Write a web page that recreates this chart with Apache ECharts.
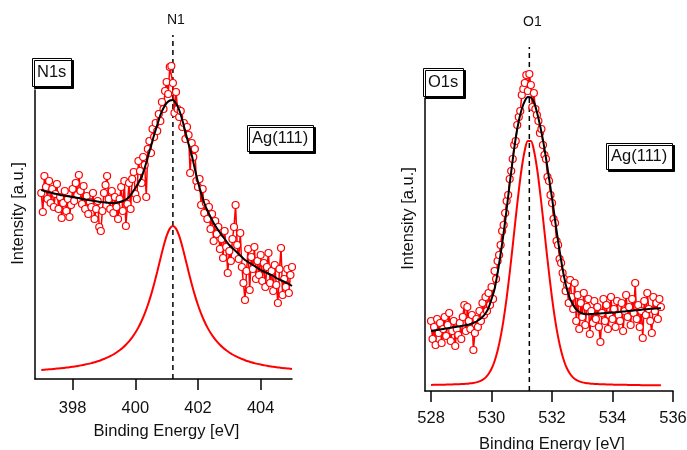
<!DOCTYPE html>
<html>
<head>
<meta charset="utf-8">
<script src="https://cdn.jsdelivr.net/npm/echarts@6/dist/echarts.min.js"></script>
<style>
html,body{margin:0;padding:0;background:#fff;}
#chart{width:687px;height:450px;}
</style>
</head>
<body>
<div id="chart"></div>
<script>
// ---------------- N1s panel ----------------
const n1Ticks = [398, 400, 402, 404];
const n1PeakPos = 401.2;
const n1DataStart = 397.0, n1DataStep = 0.05;
const n1Data = [
186,167,203,192,180,198,176,190,172,185,
195,170,182,161,176,188,168,180,162,174,
190,178,196,184,204,188,175,193,170,183,
165,177,172,186,160,170,178,152,148,168,
186,194,203,180,170,188,166,182,172,160,
180,192,168,198,153,175,196,170,200,207,
185,180,218,208,196,222,214,182,230,238,
226,250,242,256,248,265,258,277,270,288,
297,285,312,313,296,266,287,270,262,268,
252,256,240,252,244,206,236,222,230,198,
192,200,174,190,166,176,160,172,150,165,
138,158,145,152,130,140,121,148,132,106,
128,118,140,152,174,134,120,146,112,96,
79,108,130,89,122,110,132,100,118,104,
124,98,116,92,112,126,96,108,88,114,
94,76,110,131,84,100,92,110,86,104,
112];
const n1FitStart = 397.0, n1FitStep = 0.1;
const n1Envelope = [
189,188,187,186.5,185.5,185,184,183.5,183,182.5,
182,181.5,181,180,179.5,179,178.5,178,177.5,177,
176.7,176.3,176,176,176.3,177,178,179.5,182,186,
191,196,202,211,222,233,244,254,264,271,
276,278.5,279,275.5,269,259,247,235,224,210,
197,186,176,168.5,162,156,151,146.5,142,138,
134,131,128,125,122,119,117,115,113,111,
109,107.5,106,104.5,103,101,99.5,98,96.5,95,
93];
const n1Component = [
9.1,9.3,9.6,9.8,10.1,10.4,10.7,11.0,11.4,11.8,
12.2,12.7,13.2,13.8,14.4,15.1,15.9,16.8,17.7,18.8,
20.0,21.3,22.8,24.5,26.5,28.7,31.2,34.2,37.6,41.6,
46.2,51.6,58.0,65.4,74.0,83.9,95.1,107.3,120.1,132.5,
143.1,150.4,153,150.4,143.1,132.5,120.1,107.3,95.1,83.9,
74.0,65.4,58.0,51.6,46.2,41.6,37.6,34.2,31.2,28.7,
26.5,24.5,22.8,21.3,20.0,18.8,17.7,16.8,15.9,15.1,
14.4,13.8,13.2,12.7,12.2,11.8,11.4,11.0,10.7,10.4,
10.1];

// ---------------- O1s panel ----------------
const o1Ticks = [528, 530, 532, 534, 536];
const o1PeakPos = 531.25;
const o1DataStart = 528.0, o1DataStep = 0.05;
const o1Data = [
70,52,64,46,72,58,68,48,62,74,
55,66,78,50,60,70,45,62,56,68,
52,74,86,60,84,70,62,76,41,58,
72,64,80,70,88,76,94,80,98,86,
104,92,120,112,130,136,146,160,166,178,
190,196,212,220,232,246,250,266,274,280,
296,302,308,316,300,317,306,284,298,282,
276,270,258,262,246,236,232,214,210,196,
188,172,168,150,146,132,128,118,112,100,
106,88,111,94,82,108,70,96,62,88,
74,98,66,84,92,57,80,68,90,72,
84,64,49,78,92,70,86,62,76,94,
72,82,64,90,76,70,88,60,80,96,
74,84,66,92,78,108,72,86,64,80,
53,90,76,98,82,70,58,94,80,88,
72,92,84];
const o1FitStart = 528.0, o1FitStep = 0.1;
const o1Envelope = [
60,60.5,61,61.5,62,62.5,63,63.5,64,64.5,
65,65.5,66,67,68,69.5,71.5,74,77.5,83,
92,102,118,137,158,182,207,231,253,270,
282,290,294,293.5,289,279,266,251,233,213,
193,171,150,131,114,101,92,86,81.5,79,
77.5,77,76.8,77,77.2,77.4,77.6,77.8,78,78.2,
78.4,78.7,79,79.3,79.6,79.9,80.2,80.5,80.8,81.1,
81.4,81.7,82,82.2,82.4,82.6,82.8];
const o1Component = [
6.1,6.2,6.2,6.3,6.3,6.4,6.5,6.6,6.7,6.8,
6.9,7.1,7.2,7.7,8.0,8.6,9.6,11.1,13.4,17.0,
22.2,29.8,40.2,54.1,71.7,93.1,118.0,145.2,173.3,200.2,
223.5,240.8,250.1,250.1,240.8,223.5,200.2,173.3,145.2,118.0,
93.1,71.7,54.1,40.2,29.8,22.2,17.0,13.4,11.1,9.6,
8.6,8.0,7.7,7.2,7.1,6.9,6.8,6.7,6.6,6.5,
6.4,6.3,6.3,6.2,6.2,6.1,6.0,6.0,5.9,5.9,
5.8,5.8,5.8,5.7,5.7,5.7,5.7];

const dashTop = 344;

function pairs(start, step, vals) {
  return vals.map((v, i) => [+(start + i * step).toFixed(3), v]);
}

const FONT = 'Liberation Sans, Arial, sans-serif';
const RED = '#ff0000';

function xAxisCfg(gridIndex, min, max, ticks, nameGap, labelMargin) {
  return {
    type: 'value', gridIndex, min, max,
    name: 'Binding Energy [eV]', nameLocation: 'middle', nameGap,
    nameTextStyle: { fontSize: 16.5, color: '#111', fontFamily: FONT, padding: [0, 0, 0, 6] },
    axisLine: { show: true, onZero: false, lineStyle: { color: '#000', width: 1.5 } },
    axisTick: { show: true, length: 11, lineStyle: { color: '#000', width: 1.5 }, customValues: ticks },
    axisLabel: { show: true, fontSize: 16.5, color: '#111', fontFamily: FONT, margin: labelMargin, customValues: ticks },
    splitLine: { show: false }
  };
}
function yAxisCfg(gridIndex, max, shift) {
  return {
    type: 'value', gridIndex, min: 0, max,
    name: 'Intensity [a.u.]', nameLocation: 'middle', nameGap: 8,
    nameTextStyle: { fontSize: 16.5, color: '#111', fontFamily: FONT, padding: [0, 0, 0, shift] },
    axisLine: { show: true, onZero: false, lineStyle: { color: '#000', width: 1.5 } },
    axisTick: { show: false }, axisLabel: { show: false }, splitLine: { show: false }
  };
}
function panelSeries(idx, peakPos, peakLabel, labelDist, data, dStart, dStep, env, comp, fStart, fStep) {
  return [
    {
      type: 'line', xAxisIndex: idx, yAxisIndex: idx, clip: false, z: 1,
      data: [[peakPos, 0], { value: [peakPos, dashTop], symbol: 'circle', symbolSize: 0,
        label: { show: true, formatter: peakLabel, position: 'top', distance: labelDist, offset: [3, 0],
          fontSize: 14, color: '#111', fontFamily: FONT } }],
      symbol: 'none', showSymbol: true,
      lineStyle: { color: '#000', width: 1.5, type: [5, 4] }
    },
    {
      type: 'line', xAxisIndex: idx, yAxisIndex: idx, clip: false, z: 2,
      data: pairs(dStart, dStep, data),
      symbol: 'circle', symbolSize: 7, showSymbol: true,
      lineStyle: { color: RED, width: 1.5 },
      itemStyle: { color: '#fff', borderColor: RED, borderWidth: 1.2 }
    },
    {
      type: 'line', xAxisIndex: idx, yAxisIndex: idx, clip: false, z: 3,
      data: pairs(fStart, fStep, comp), smooth: 0.3,
      symbol: 'none', lineStyle: { color: RED, width: 2 }
    },
    {
      type: 'line', xAxisIndex: idx, yAxisIndex: idx, clip: false, z: 4,
      data: pairs(fStart, fStep, env), smooth: 0.3,
      symbol: 'none', lineStyle: { color: '#000', width: 2 }
    }
  ];
}
function boxTitle(text, left, top, padding) {
  return {
    text, left, top, padding,
    textStyle: { fontSize: 16.5, fontWeight: 'normal', color: '#111', fontFamily: FONT },
    borderWidth: 1, borderColor: '#000', backgroundColor: '#fff',
    shadowColor: '#000', shadowOffsetX: 2, shadowOffsetY: 2, shadowBlur: 0
  };
}

const chart = echarts.init(document.getElementById('chart'), null, { renderer: 'canvas' });
chart.setOption({
  animation: false,
  backgroundColor: '#fff',
  title: [
    boxTitle('N1s', 32, 58, [6, 5]),
    boxTitle('Ag(111)', 247, 125, [5, 5]),
    boxTitle('O1s', 423, 68, [6, 5]),
    boxTitle('Ag(111)', 606, 143, [5, 5])
  ],
  grid: [
    { left: 35, top: 90, width: 257, height: 289, outerBoundsMode: 'none', containLabel: false },
    { left: 425, top: 98, width: 248, height: 293, outerBoundsMode: 'none', containLabel: false }
  ],
  xAxis: [
    xAxisCfg(0, 396.8, 405, n1Ticks, 44, 21),
    xAxisCfg(1, 527.8, 536, o1Ticks, 45, 19)
  ],
  yAxis: [
    yAxisCfg(0, 289, 42),
    yAxisCfg(1, 293, 52)
  ],
  series: [
    ...panelSeries(0, n1PeakPos, 'N1', 8, n1Data, n1DataStart, n1DataStep, n1Envelope, n1Component, n1FitStart, n1FitStep),
    ...panelSeries(1, o1PeakPos, 'O1', 18, o1Data, o1DataStart, o1DataStep, o1Envelope, o1Component, o1FitStart, o1FitStep)
  ]
});
</script>
</body>
</html>
